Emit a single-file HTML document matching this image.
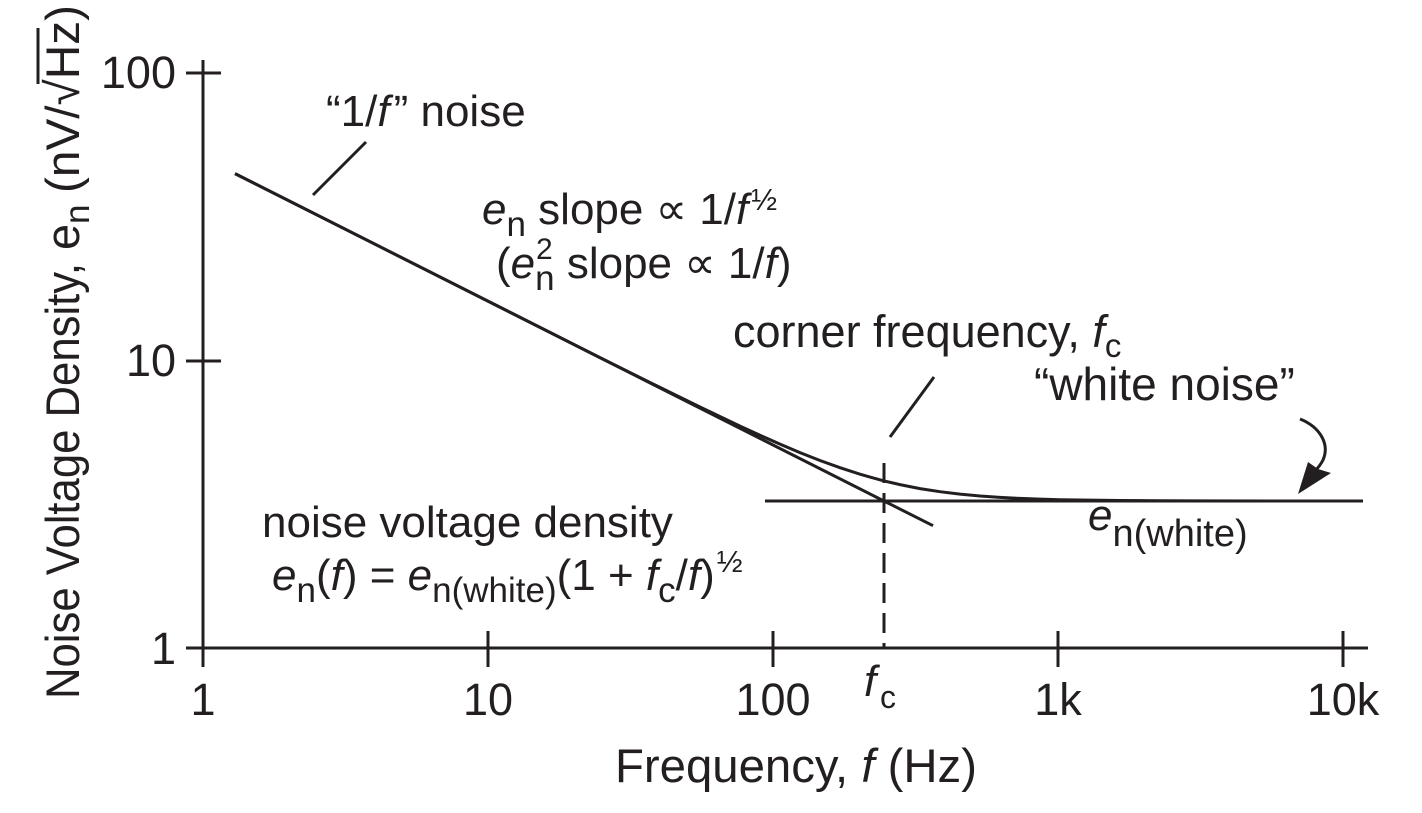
<!DOCTYPE html>
<html>
<head>
<meta charset="utf-8">
<style>
  html, body { margin:0; padding:0; background:#ffffff; }
  svg { display:block; }
  text { font-family: "Liberation Sans", "DejaVu Sans", sans-serif; fill:#231f20; }
  .it { font-style: italic; }
</style>
</head>
<body>
<svg width="1422" height="813" viewBox="0 0 1422 813" xmlns="http://www.w3.org/2000/svg">
  <rect x="0" y="0" width="1422" height="813" fill="#ffffff"/>
  <g stroke="#231f20" stroke-width="3" fill="none" stroke-linecap="butt">
    <!-- axes -->
    <line x1="203" y1="60" x2="203" y2="667"/>
    <line x1="186" y1="648" x2="1368" y2="648"/>
    <!-- y ticks -->
    <line x1="186" y1="73" x2="221" y2="73"/>
    <line x1="186" y1="361" x2="221" y2="361"/>
    <!-- x ticks -->
    <line x1="488" y1="631" x2="488" y2="667"/>
    <line x1="773" y1="631" x2="773" y2="667"/>
    <line x1="1058" y1="631" x2="1058" y2="667"/>
    <line x1="1343" y1="631" x2="1343" y2="667"/>
    <!-- white noise level -->
    <line x1="765" y1="501" x2="1363" y2="501"/>
    <!-- 1/f asymptote -->
    <line x1="235" y1="173.6" x2="933" y2="525.7"/>
    <!-- total noise curve -->
    <polyline points="235,173.6 600,357.6 650,382.5 700,407.0 740,426.1 760,435.3 780,444.1 800,452.6 820,460.5 840,467.7 860,474.2 870,477.1 884,480.9 900,484.6 920,488.6 940,491.7 960,494.1 980,496.0 1000,497.4 1020,498.4 1040,499.1 1060,499.7 1080,500.05 1120,500.5 1160,500.76 1200,500.9 1363,501"/>
    <!-- corner dashed line -->
    <line x1="884" y1="463" x2="884" y2="648" stroke-dasharray="20 10"/>
    <!-- leader lines -->
    <line x1="313" y1="195" x2="366" y2="142"/>
    <line x1="890" y1="437" x2="934" y2="377"/>
    <!-- curved arrow -->
    <path d="M1300,419 C1320,427 1330,444 1323,460 C1320,466 1317,469 1314,472"/>
  </g>
  <polygon points="1298,494 1308,462 1318,469 1331,473" fill="#231f20"/>

  <!-- y tick labels -->
  <text x="176" y="88" font-size="45" text-anchor="end">100</text>
  <text x="176" y="376" font-size="45" text-anchor="end">10</text>
  <text x="176" y="664" font-size="45" text-anchor="end">1</text>

  <!-- x tick labels -->
  <text x="203" y="715" font-size="45" text-anchor="middle">1</text>
  <text x="488" y="715" font-size="45" text-anchor="middle">10</text>
  <text x="773" y="715" font-size="45" text-anchor="middle">100</text>
  <text x="1058" y="715" font-size="45" text-anchor="middle">1k</text>
  <text x="1343" y="715" font-size="45" text-anchor="middle">10k</text>

  <!-- f_c under axis -->
  <text x="864" y="696" font-size="44" class="it">f</text>
  <text x="880" y="708" font-size="32">c</text>

  <!-- x title -->
  <text x="615" y="782" font-size="47" textLength="362" lengthAdjust="spacingAndGlyphs">Frequency, <tspan class="it">f</tspan> (Hz)</text>

  <!-- y title (rotated) -->
  <g transform="translate(79,0) rotate(-90)">
    <text x="-699" y="0" font-size="47" textLength="436" lengthAdjust="spacingAndGlyphs">Noise Voltage Density,</text>
    <text x="-250" y="0" font-size="47">e</text>
    <text x="-224" y="10" font-size="35">n</text>
    <text x="-193" y="0" font-size="47" textLength="188" lengthAdjust="spacingAndGlyphs">(nV/√Hz)</text>
    <line x1="-84" y1="-41" x2="-28" y2="-41" stroke="#231f20" stroke-width="3"/>
  </g>

  <!-- annotations -->
  <text x="326" y="126" font-size="44">“1/<tspan class="it">f</tspan><tspan dx="4">”</tspan> noise</text>

  <text x="482" y="224" font-size="44"><tspan class="it">e</tspan><tspan font-size="35" dy="12">n</tspan><tspan dy="-12"> slope ∝ 1/</tspan><tspan class="it">f</tspan><tspan font-size="31" dx="3" dy="-14">½</tspan></text>

  <text x="496" y="278" font-size="44">(<tspan class="it">e</tspan><tspan font-size="35" dy="12">n</tspan><tspan dy="-12"> slope ∝ 1/</tspan><tspan class="it">f</tspan>)</text>
  <text x="536" y="259" font-size="30">2</text>

  <text x="733" y="347" font-size="45">corner frequency, <tspan class="it">f</tspan><tspan font-size="33" dy="10">c</tspan></text>

  <text x="1034" y="400" font-size="46">“white noise”</text>

  <text x="1088" y="530" font-size="44"><tspan class="it">e</tspan><tspan font-size="38" dy="16">n(white)</tspan></text>

  <text x="262" y="537" font-size="44">noise voltage density</text>

  <text x="272" y="590" font-size="44"><tspan class="it">e</tspan><tspan font-size="35" dy="12">n</tspan><tspan dy="-12">(</tspan><tspan class="it">f</tspan>) = <tspan class="it">e</tspan><tspan font-size="35" dy="12">n(white)</tspan><tspan dy="-12">(1 + </tspan><tspan class="it">f</tspan><tspan font-size="35" dy="12">c</tspan><tspan dy="-12">/</tspan><tspan class="it">f</tspan>)<tspan font-size="31" dx="2" dy="-18">½</tspan></text>
</svg>
</body>
</html>
